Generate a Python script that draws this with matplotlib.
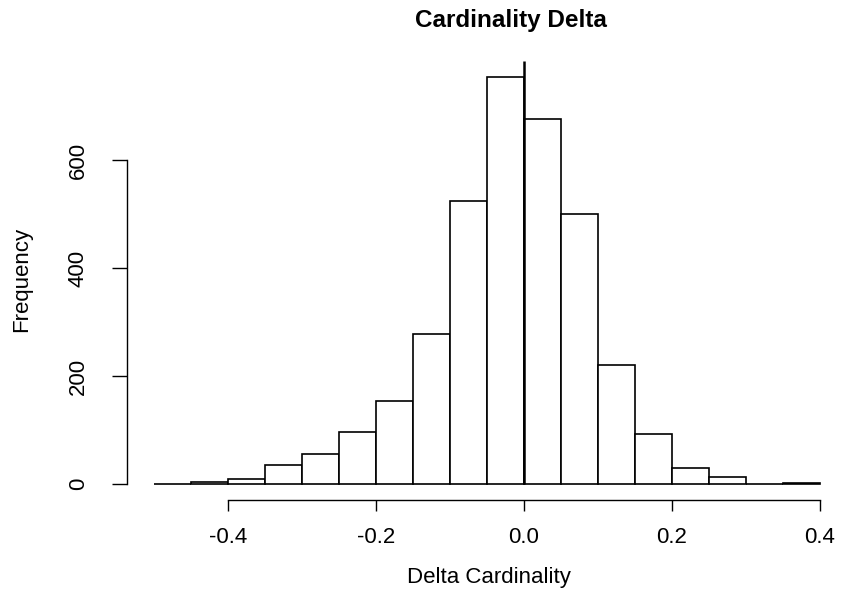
import matplotlib
matplotlib.use("Agg")
import matplotlib.pyplot as plt
import numpy as np

plt.rcParams['font.family'] = ['Liberation Sans', 'DejaVu Sans']

bin_edges = [-0.5, -0.45, -0.4, -0.35, -0.3, -0.25, -0.2, -0.15, -0.1, -0.05,
             0.0, 0.05, 0.1, 0.15, 0.2, 0.25, 0.3, 0.35, 0.4]
counts = [1, 4, 9, 36, 55, 96, 154, 278, 524, 754,
          676, 501, 220, 93, 30, 13, 1, 2]
x_ticks = [-0.4, -0.2, 0.0, 0.2, 0.4]
x_ticklabels = ["-0.4", "-0.2", "0.0", "0.2", "0.4"]
y_ticks = [0, 200, 400, 600]
y_ticklabels = ["0", "200", "400", "600"]
title = "Cardinality Delta"
xlabel = "Delta Cardinality"
ylabel = "Frequency"

W, H = 841, 590
fig = plt.figure(figsize=(W / 100, H / 100), dpi=100)
left_px, right_px = 127.4, 846.6
top_px, bottom_px = 60.6, 500.4
ax = fig.add_axes([left_px / W, 1 - bottom_px / H,
                   (right_px - left_px) / W, (bottom_px - top_px) / H])

edges = np.array(bin_edges)
ax.bar(edges[:-1], counts, width=np.diff(edges), align='edge',
       facecolor='white', edgecolor='black', linewidth=1.2)

xr = edges[-1] - edges[0]
ax.set_xlim(edges[0] - 0.04 * xr, edges[-1] + 0.04 * xr)
ymax = max(counts)
ax.set_ylim(-0.04 * ymax, 1.04 * ymax)

# vertical reference line at zero
ax.plot([0, 0], [0, 1.04 * ymax], color='black', linewidth=1.8,
        solid_capstyle='butt', clip_on=False)

for s in ['top', 'right']:
    ax.spines[s].set_visible(False)
ax.spines['bottom'].set_bounds(x_ticks[0], x_ticks[-1])
ax.spines['left'].set_bounds(y_ticks[0], y_ticks[-1])
ax.spines['bottom'].set_linewidth(1.0)
ax.spines['left'].set_linewidth(1.0)

ax.set_xticks(x_ticks)
ax.set_xticklabels(x_ticklabels, fontsize=16)
ax.set_yticks(y_ticks)
ax.set_yticklabels(y_ticklabels, fontsize=16, rotation=90, va='center')
ax.tick_params(axis='x', length=8, width=1.0, pad=11)
ax.tick_params(axis='y', length=10.8, width=1.0, pad=17)

fig.text(511 / W, 1 - 20 / H, title, fontsize=17.5, fontweight='bold',
         ha='center', va='center')
fig.text(489 / W, 1 - 578 / H, xlabel, fontsize=16,
         ha='center', va='center')
fig.text(22 / W, 1 - 279 / H, ylabel, fontsize=16, rotation=90,
         ha='center', va='center')

fig.savefig("out.png", dpi=100)
